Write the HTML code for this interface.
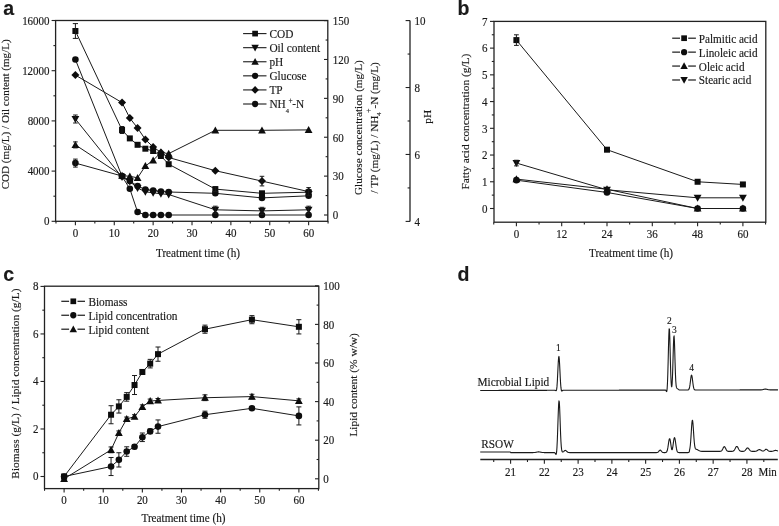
<!DOCTYPE html>
<html><head><meta charset="utf-8"><style>
html,body{margin:0;padding:0;background:#fff;}
svg{display:block;filter:grayscale(1);}
text{font-family:"Liberation Serif", serif; fill:#1a1a1a; stroke:#1a1a1a; stroke-width:0.15px;}
text.pl{font-family:"Liberation Sans", sans-serif; font-weight:bold;}
</style></head><body>
<svg width="779" height="526" viewBox="0 0 779 526">
<rect width="779" height="526" fill="#fff"/>
<rect x="55.6" y="20.5" width="272.2" height="200.8" fill="none" stroke="#222222" stroke-width="1.3"/>
<line x1="51.6" y1="221.3" x2="55.6" y2="221.3" stroke="#222222" stroke-width="1.1"/>
<text transform="translate(49.6 225.3) scale(1 1.1)" text-anchor="end" font-size="11">0</text>
<line x1="53.4" y1="196.2" x2="55.6" y2="196.2" stroke="#222222" stroke-width="1.1"/>
<line x1="51.6" y1="171.1" x2="55.6" y2="171.1" stroke="#222222" stroke-width="1.1"/>
<text transform="translate(49.6 175.1) scale(1 1.1)" text-anchor="end" font-size="11">4000</text>
<line x1="53.4" y1="146" x2="55.6" y2="146" stroke="#222222" stroke-width="1.1"/>
<line x1="51.6" y1="120.9" x2="55.6" y2="120.9" stroke="#222222" stroke-width="1.1"/>
<text transform="translate(49.6 124.9) scale(1 1.1)" text-anchor="end" font-size="11">8000</text>
<line x1="53.4" y1="95.8" x2="55.6" y2="95.8" stroke="#222222" stroke-width="1.1"/>
<line x1="51.6" y1="70.7" x2="55.6" y2="70.7" stroke="#222222" stroke-width="1.1"/>
<text transform="translate(49.6 74.7) scale(1 1.1)" text-anchor="end" font-size="11">12000</text>
<line x1="53.4" y1="45.6" x2="55.6" y2="45.6" stroke="#222222" stroke-width="1.1"/>
<line x1="51.6" y1="20.5" x2="55.6" y2="20.5" stroke="#222222" stroke-width="1.1"/>
<text transform="translate(49.6 24.5) scale(1 1.1)" text-anchor="end" font-size="11">16000</text>
<line x1="55.97" y1="221.3" x2="55.97" y2="223.5" stroke="#222222" stroke-width="1.1"/>
<line x1="75.4" y1="221.3" x2="75.4" y2="225.3" stroke="#222222" stroke-width="1.1"/>
<text transform="translate(75.4 237) scale(1 1.1)" text-anchor="middle" font-size="11">0</text>
<line x1="94.84" y1="221.3" x2="94.84" y2="223.5" stroke="#222222" stroke-width="1.1"/>
<line x1="114.27" y1="221.3" x2="114.27" y2="225.3" stroke="#222222" stroke-width="1.1"/>
<text transform="translate(114.27 237) scale(1 1.1)" text-anchor="middle" font-size="11">10</text>
<line x1="133.71" y1="221.3" x2="133.71" y2="223.5" stroke="#222222" stroke-width="1.1"/>
<line x1="153.14" y1="221.3" x2="153.14" y2="225.3" stroke="#222222" stroke-width="1.1"/>
<text transform="translate(153.14 237) scale(1 1.1)" text-anchor="middle" font-size="11">20</text>
<line x1="172.57" y1="221.3" x2="172.57" y2="223.5" stroke="#222222" stroke-width="1.1"/>
<line x1="192.01" y1="221.3" x2="192.01" y2="225.3" stroke="#222222" stroke-width="1.1"/>
<text transform="translate(192.01 237) scale(1 1.1)" text-anchor="middle" font-size="11">30</text>
<line x1="211.44" y1="221.3" x2="211.44" y2="223.5" stroke="#222222" stroke-width="1.1"/>
<line x1="230.88" y1="221.3" x2="230.88" y2="225.3" stroke="#222222" stroke-width="1.1"/>
<text transform="translate(230.88 237) scale(1 1.1)" text-anchor="middle" font-size="11">40</text>
<line x1="250.31" y1="221.3" x2="250.31" y2="223.5" stroke="#222222" stroke-width="1.1"/>
<line x1="269.75" y1="221.3" x2="269.75" y2="225.3" stroke="#222222" stroke-width="1.1"/>
<text transform="translate(269.75 237) scale(1 1.1)" text-anchor="middle" font-size="11">50</text>
<line x1="289.19" y1="221.3" x2="289.19" y2="223.5" stroke="#222222" stroke-width="1.1"/>
<line x1="308.62" y1="221.3" x2="308.62" y2="225.3" stroke="#222222" stroke-width="1.1"/>
<text transform="translate(308.62 237) scale(1 1.1)" text-anchor="middle" font-size="11">60</text>
<line x1="328.06" y1="221.3" x2="328.06" y2="223.5" stroke="#222222" stroke-width="1.1"/>
<text transform="translate(198 256.8) scale(1 1.1)" text-anchor="middle" font-size="11.2">Treatment time (h)</text>
<line x1="324" y1="215" x2="327.8" y2="215" stroke="#222222" stroke-width="1.1"/>
<text transform="translate(332.8 219.3) scale(1 1.1)" text-anchor="start" font-size="11">0</text>
<line x1="325.6" y1="195.56" x2="327.8" y2="195.56" stroke="#222222" stroke-width="1.1"/>
<line x1="324" y1="176.12" x2="327.8" y2="176.12" stroke="#222222" stroke-width="1.1"/>
<text transform="translate(332.8 180.42) scale(1 1.1)" text-anchor="start" font-size="11">30</text>
<line x1="325.6" y1="156.68" x2="327.8" y2="156.68" stroke="#222222" stroke-width="1.1"/>
<line x1="324" y1="137.24" x2="327.8" y2="137.24" stroke="#222222" stroke-width="1.1"/>
<text transform="translate(332.8 141.54) scale(1 1.1)" text-anchor="start" font-size="11">60</text>
<line x1="325.6" y1="117.8" x2="327.8" y2="117.8" stroke="#222222" stroke-width="1.1"/>
<line x1="324" y1="98.36" x2="327.8" y2="98.36" stroke="#222222" stroke-width="1.1"/>
<text transform="translate(332.8 102.66) scale(1 1.1)" text-anchor="start" font-size="11">90</text>
<line x1="325.6" y1="78.92" x2="327.8" y2="78.92" stroke="#222222" stroke-width="1.1"/>
<line x1="324" y1="59.48" x2="327.8" y2="59.48" stroke="#222222" stroke-width="1.1"/>
<text transform="translate(332.8 63.78) scale(1 1.1)" text-anchor="start" font-size="11">120</text>
<line x1="325.6" y1="40.04" x2="327.8" y2="40.04" stroke="#222222" stroke-width="1.1"/>
<line x1="324" y1="20.6" x2="327.8" y2="20.6" stroke="#222222" stroke-width="1.1"/>
<text transform="translate(332.8 24.9) scale(1 1.1)" text-anchor="start" font-size="11">150</text>
<line x1="410" y1="20.6" x2="410" y2="221.4" stroke="#222222" stroke-width="1.3"/>
<line x1="405.6" y1="221.4" x2="410" y2="221.4" stroke="#222222" stroke-width="1.1"/>
<text transform="translate(414.5 225.6) scale(1 1.1)" text-anchor="start" font-size="11">4</text>
<line x1="407.6" y1="187.93" x2="410" y2="187.93" stroke="#222222" stroke-width="1.1"/>
<line x1="405.6" y1="154.46" x2="410" y2="154.46" stroke="#222222" stroke-width="1.1"/>
<text transform="translate(414.5 158.66) scale(1 1.1)" text-anchor="start" font-size="11">6</text>
<line x1="407.6" y1="120.99" x2="410" y2="120.99" stroke="#222222" stroke-width="1.1"/>
<line x1="405.6" y1="87.52" x2="410" y2="87.52" stroke="#222222" stroke-width="1.1"/>
<text transform="translate(414.5 91.72) scale(1 1.1)" text-anchor="start" font-size="11">8</text>
<line x1="407.6" y1="54.05" x2="410" y2="54.05" stroke="#222222" stroke-width="1.1"/>
<line x1="405.6" y1="20.58" x2="410" y2="20.58" stroke="#222222" stroke-width="1.1"/>
<text transform="translate(414.5 24.78) scale(1 1.1)" text-anchor="start" font-size="11">10</text>
<text transform="translate(8.8 114.3) rotate(-90) scale(1 1.0)" text-anchor="middle" font-size="11.1">COD (mg/L) / Oil content (mg/L)</text>
<text transform="translate(361.9 127.6) rotate(-90) scale(1 1.0)" text-anchor="middle" font-size="11.2">Glucose concentration (mg/L)</text>
<text transform="translate(378.1 127.8) rotate(-90) scale(1 1.0)" text-anchor="middle" font-size="11.2">/ TP (mg/L) / NH<tspan font-size='6.5' dy='3'>4</tspan><tspan font-size='7.5' dx='-0.3' dy='-10.4'>+</tspan><tspan dy='7.4'>-N (mg/L)</tspan></text>
<text transform="translate(430.8 116.7) rotate(-90) scale(1 1.0)" text-anchor="middle" font-size="11.4">pH</text>
<polyline points="75.4,31 122.04,130 129.82,138.4 137.59,144.8 145.37,148.7 153.14,151 160.91,156 168.69,164.2 215.33,189.1 261.98,193.3 308.62,192.2" fill="none" stroke="#1a1a1a" stroke-width="1" stroke-linejoin="round"/>
<polyline points="75.4,75.1 122.04,102.6 129.82,118.1 137.59,128 145.37,139.5 153.14,147 160.91,152.4 168.69,157.5 215.33,170.7 261.98,181.1 308.62,191.6" fill="none" stroke="#1a1a1a" stroke-width="1" stroke-linejoin="round"/>
<polyline points="75.4,119 122.04,177.2 129.82,181.5 137.59,188 145.37,191.8 153.14,192.8 160.91,193.8 168.69,194.5 215.33,209.8 261.98,210.9 308.62,209.8" fill="none" stroke="#1a1a1a" stroke-width="1" stroke-linejoin="round"/>
<polyline points="75.4,163.1 122.04,176 129.82,181 137.59,186 145.37,189.5 153.14,190.5 160.91,191.5 168.69,192 215.33,193.3 261.98,197.9 308.62,195.8" fill="none" stroke="#1a1a1a" stroke-width="1" stroke-linejoin="round"/>
<polyline points="75.4,59.5 122.04,176.3 129.82,188.8 137.59,212 145.37,215 153.14,215 160.91,215 168.69,215 215.33,215 261.98,215 308.62,215" fill="none" stroke="#1a1a1a" stroke-width="1" stroke-linejoin="round"/>
<polyline points="75.4,144.9 122.04,175.6 129.82,176.3 137.59,177.8 145.37,166 153.14,160.3 160.91,152.5 168.69,153.6 215.33,130.3 261.98,130.3 308.62,129.9" fill="none" stroke="#1a1a1a" stroke-width="1" stroke-linejoin="round"/>
<rect x="72.4" y="28" width="6" height="6" fill="#0d0d0d"/>
<rect x="119.04" y="127" width="6" height="6" fill="#0d0d0d"/>
<rect x="126.82" y="135.4" width="6" height="6" fill="#0d0d0d"/>
<rect x="134.59" y="141.8" width="6" height="6" fill="#0d0d0d"/>
<rect x="142.37" y="145.7" width="6" height="6" fill="#0d0d0d"/>
<rect x="150.14" y="148" width="6" height="6" fill="#0d0d0d"/>
<rect x="157.91" y="153" width="6" height="6" fill="#0d0d0d"/>
<rect x="165.69" y="161.2" width="6" height="6" fill="#0d0d0d"/>
<rect x="212.33" y="186.1" width="6" height="6" fill="#0d0d0d"/>
<rect x="258.98" y="190.3" width="6" height="6" fill="#0d0d0d"/>
<rect x="305.62" y="189.2" width="6" height="6" fill="#0d0d0d"/>
<path d="M75.4 71.1 L79.4 75.1 L75.4 79.1 L71.4 75.1Z" fill="#0d0d0d"/>
<path d="M122.04 98.6 L126.04 102.6 L122.04 106.6 L118.04 102.6Z" fill="#0d0d0d"/>
<path d="M129.82 114.1 L133.82 118.1 L129.82 122.1 L125.82 118.1Z" fill="#0d0d0d"/>
<path d="M137.59 124 L141.59 128 L137.59 132 L133.59 128Z" fill="#0d0d0d"/>
<path d="M145.37 135.5 L149.37 139.5 L145.37 143.5 L141.37 139.5Z" fill="#0d0d0d"/>
<path d="M153.14 143 L157.14 147 L153.14 151 L149.14 147Z" fill="#0d0d0d"/>
<path d="M160.91 148.4 L164.91 152.4 L160.91 156.4 L156.91 152.4Z" fill="#0d0d0d"/>
<path d="M168.69 153.5 L172.69 157.5 L168.69 161.5 L164.69 157.5Z" fill="#0d0d0d"/>
<path d="M215.33 166.7 L219.33 170.7 L215.33 174.7 L211.33 170.7Z" fill="#0d0d0d"/>
<path d="M261.98 177.1 L265.98 181.1 L261.98 185.1 L257.98 181.1Z" fill="#0d0d0d"/>
<path d="M308.62 187.6 L312.62 191.6 L308.62 195.6 L304.62 191.6Z" fill="#0d0d0d"/>
<path d="M75.4 122.9 L79.3 115.88 L71.5 115.88Z" fill="#0d0d0d"/>
<path d="M122.04 181.1 L125.94 174.08 L118.14 174.08Z" fill="#0d0d0d"/>
<path d="M129.82 185.4 L133.72 178.38 L125.92 178.38Z" fill="#0d0d0d"/>
<path d="M137.59 191.9 L141.49 184.88 L133.69 184.88Z" fill="#0d0d0d"/>
<path d="M145.37 195.7 L149.27 188.68 L141.47 188.68Z" fill="#0d0d0d"/>
<path d="M153.14 196.7 L157.04 189.68 L149.24 189.68Z" fill="#0d0d0d"/>
<path d="M160.91 197.7 L164.81 190.68 L157.01 190.68Z" fill="#0d0d0d"/>
<path d="M168.69 198.4 L172.59 191.38 L164.79 191.38Z" fill="#0d0d0d"/>
<path d="M215.33 213.7 L219.23 206.68 L211.43 206.68Z" fill="#0d0d0d"/>
<path d="M261.98 214.8 L265.88 207.78 L258.08 207.78Z" fill="#0d0d0d"/>
<path d="M308.62 213.7 L312.52 206.68 L304.72 206.68Z" fill="#0d0d0d"/>
<circle cx="75.4" cy="163.1" r="3.3" fill="#0d0d0d"/>
<circle cx="122.04" cy="176" r="3.3" fill="#0d0d0d"/>
<circle cx="129.82" cy="181" r="3.3" fill="#0d0d0d"/>
<circle cx="137.59" cy="186" r="3.3" fill="#0d0d0d"/>
<circle cx="145.37" cy="189.5" r="3.3" fill="#0d0d0d"/>
<circle cx="153.14" cy="190.5" r="3.3" fill="#0d0d0d"/>
<circle cx="160.91" cy="191.5" r="3.3" fill="#0d0d0d"/>
<circle cx="168.69" cy="192" r="3.3" fill="#0d0d0d"/>
<circle cx="215.33" cy="193.3" r="3.3" fill="#0d0d0d"/>
<circle cx="261.98" cy="197.9" r="3.3" fill="#0d0d0d"/>
<circle cx="308.62" cy="195.8" r="3.3" fill="#0d0d0d"/>
<circle cx="75.4" cy="59.5" r="3.3" fill="#0d0d0d"/>
<circle cx="122.04" cy="176.3" r="3.3" fill="#0d0d0d"/>
<circle cx="129.82" cy="188.8" r="3.3" fill="#0d0d0d"/>
<circle cx="137.59" cy="212" r="3.3" fill="#0d0d0d"/>
<circle cx="145.37" cy="215" r="3.3" fill="#0d0d0d"/>
<circle cx="153.14" cy="215" r="3.3" fill="#0d0d0d"/>
<circle cx="160.91" cy="215" r="3.3" fill="#0d0d0d"/>
<circle cx="168.69" cy="215" r="3.3" fill="#0d0d0d"/>
<circle cx="215.33" cy="215" r="3.3" fill="#0d0d0d"/>
<circle cx="261.98" cy="215" r="3.3" fill="#0d0d0d"/>
<circle cx="308.62" cy="215" r="3.3" fill="#0d0d0d"/>
<path d="M75.4 141 L79.3 148.02 L71.5 148.02Z" fill="#0d0d0d"/>
<path d="M122.04 171.7 L125.94 178.72 L118.14 178.72Z" fill="#0d0d0d"/>
<path d="M129.82 172.4 L133.72 179.42 L125.92 179.42Z" fill="#0d0d0d"/>
<path d="M137.59 173.9 L141.49 180.92 L133.69 180.92Z" fill="#0d0d0d"/>
<path d="M145.37 162.1 L149.27 169.12 L141.47 169.12Z" fill="#0d0d0d"/>
<path d="M153.14 156.4 L157.04 163.42 L149.24 163.42Z" fill="#0d0d0d"/>
<path d="M160.91 148.6 L164.81 155.62 L157.01 155.62Z" fill="#0d0d0d"/>
<path d="M168.69 149.7 L172.59 156.72 L164.79 156.72Z" fill="#0d0d0d"/>
<path d="M215.33 126.4 L219.23 133.42 L211.43 133.42Z" fill="#0d0d0d"/>
<path d="M261.98 126.4 L265.88 133.42 L258.08 133.42Z" fill="#0d0d0d"/>
<path d="M308.62 126 L312.52 133.02 L304.72 133.02Z" fill="#0d0d0d"/>
<line x1="75.4" y1="23.6" x2="75.4" y2="38.4" stroke="#1a1a1a" stroke-width="1"/>
<line x1="72.8" y1="23.6" x2="78" y2="23.6" stroke="#1a1a1a" stroke-width="1"/>
<line x1="72.8" y1="38.4" x2="78" y2="38.4" stroke="#1a1a1a" stroke-width="1"/>
<line x1="75.4" y1="159.1" x2="75.4" y2="167.1" stroke="#1a1a1a" stroke-width="1"/>
<line x1="73.1" y1="159.1" x2="77.7" y2="159.1" stroke="#1a1a1a" stroke-width="1"/>
<line x1="73.1" y1="167.1" x2="77.7" y2="167.1" stroke="#1a1a1a" stroke-width="1"/>
<line x1="122.04" y1="126.5" x2="122.04" y2="133.5" stroke="#1a1a1a" stroke-width="1"/>
<line x1="119.74" y1="126.5" x2="124.34" y2="126.5" stroke="#1a1a1a" stroke-width="1"/>
<line x1="119.74" y1="133.5" x2="124.34" y2="133.5" stroke="#1a1a1a" stroke-width="1"/>
<line x1="261.98" y1="176.3" x2="261.98" y2="185.9" stroke="#1a1a1a" stroke-width="1"/>
<line x1="259.68" y1="176.3" x2="264.28" y2="176.3" stroke="#1a1a1a" stroke-width="1"/>
<line x1="259.68" y1="185.9" x2="264.28" y2="185.9" stroke="#1a1a1a" stroke-width="1"/>
<line x1="308.62" y1="187.6" x2="308.62" y2="195.6" stroke="#1a1a1a" stroke-width="1"/>
<line x1="306.32" y1="187.6" x2="310.92" y2="187.6" stroke="#1a1a1a" stroke-width="1"/>
<line x1="306.32" y1="195.6" x2="310.92" y2="195.6" stroke="#1a1a1a" stroke-width="1"/>
<line x1="75.4" y1="115" x2="75.4" y2="123" stroke="#1a1a1a" stroke-width="1"/>
<line x1="73.1" y1="115" x2="77.7" y2="115" stroke="#1a1a1a" stroke-width="1"/>
<line x1="73.1" y1="123" x2="77.7" y2="123" stroke="#1a1a1a" stroke-width="1"/>
<line x1="75.4" y1="141.9" x2="75.4" y2="147.9" stroke="#1a1a1a" stroke-width="1"/>
<line x1="73.1" y1="141.9" x2="77.7" y2="141.9" stroke="#1a1a1a" stroke-width="1"/>
<line x1="73.1" y1="147.9" x2="77.7" y2="147.9" stroke="#1a1a1a" stroke-width="1"/>
<line x1="215.33" y1="206.2" x2="215.33" y2="213.4" stroke="#1a1a1a" stroke-width="1"/>
<line x1="213.03" y1="206.2" x2="217.63" y2="206.2" stroke="#1a1a1a" stroke-width="1"/>
<line x1="213.03" y1="213.4" x2="217.63" y2="213.4" stroke="#1a1a1a" stroke-width="1"/>
<line x1="261.98" y1="207.3" x2="261.98" y2="214.5" stroke="#1a1a1a" stroke-width="1"/>
<line x1="259.68" y1="207.3" x2="264.28" y2="207.3" stroke="#1a1a1a" stroke-width="1"/>
<line x1="259.68" y1="214.5" x2="264.28" y2="214.5" stroke="#1a1a1a" stroke-width="1"/>
<line x1="308.62" y1="206.2" x2="308.62" y2="213.4" stroke="#1a1a1a" stroke-width="1"/>
<line x1="306.32" y1="206.2" x2="310.92" y2="206.2" stroke="#1a1a1a" stroke-width="1"/>
<line x1="306.32" y1="213.4" x2="310.92" y2="213.4" stroke="#1a1a1a" stroke-width="1"/>
<line x1="215.33" y1="186.6" x2="215.33" y2="191.6" stroke="#1a1a1a" stroke-width="1"/>
<line x1="213.03" y1="186.6" x2="217.63" y2="186.6" stroke="#1a1a1a" stroke-width="1"/>
<line x1="213.03" y1="191.6" x2="217.63" y2="191.6" stroke="#1a1a1a" stroke-width="1"/>
<line x1="243.1" y1="33.6" x2="266.5" y2="33.6" stroke="#1a1a1a" stroke-width="1.1"/>
<rect x="252.25" y="30.75" width="5.7" height="5.7" fill="#0d0d0d"/>
<text transform="translate(269.4 37.8) scale(1 1.1)" text-anchor="start" font-size="11.35">COD</text>
<line x1="243.1" y1="47.68" x2="266.5" y2="47.68" stroke="#1a1a1a" stroke-width="1.1"/>
<path d="M255.1 51.38 L258.81 44.72 L251.39 44.72Z" fill="#0d0d0d"/>
<text transform="translate(269.4 51.88) scale(1 1.1)" text-anchor="start" font-size="11.35">Oil content</text>
<line x1="243.1" y1="61.76" x2="266.5" y2="61.76" stroke="#1a1a1a" stroke-width="1.1"/>
<path d="M255.1 58.06 L258.81 64.72 L251.39 64.72Z" fill="#0d0d0d"/>
<text transform="translate(269.4 65.96) scale(1 1.1)" text-anchor="start" font-size="11.35">pH</text>
<line x1="243.1" y1="75.84" x2="266.5" y2="75.84" stroke="#1a1a1a" stroke-width="1.1"/>
<circle cx="255.1" cy="75.84" r="3.13" fill="#0d0d0d"/>
<text transform="translate(269.4 80.04) scale(1 1.1)" text-anchor="start" font-size="11.35">Glucose</text>
<line x1="243.1" y1="89.92" x2="266.5" y2="89.92" stroke="#1a1a1a" stroke-width="1.1"/>
<path d="M255.1 86.12 L258.9 89.92 L255.1 93.72 L251.3 89.92Z" fill="#0d0d0d"/>
<text transform="translate(269.4 94.12) scale(1 1.1)" text-anchor="start" font-size="11.35">TP</text>
<line x1="243.1" y1="104" x2="266.5" y2="104" stroke="#1a1a1a" stroke-width="1.1"/>
<circle cx="255.1" cy="104" r="3.13" fill="#0d0d0d"/>
<text transform="translate(269.4 108.2) scale(1 1.1)" text-anchor="start" font-size="11.35">NH<tspan font-size='6.5' dy='4.3'>4</tspan><tspan font-size='7.5' dx='-0.6' dy='-9.2'>+</tspan><tspan dx='-0.4' dy='4.9'>-N</tspan></text>
<rect x="494.0" y="21.4" width="271.8" height="200.8" fill="none" stroke="#222222" stroke-width="1.3"/>
<line x1="490" y1="208.5" x2="494" y2="208.5" stroke="#222222" stroke-width="1.1"/>
<text transform="translate(487.4 212.8) scale(1 1.1)" text-anchor="end" font-size="11">0</text>
<line x1="491.8" y1="195.13" x2="494" y2="195.13" stroke="#222222" stroke-width="1.1"/>
<line x1="490" y1="181.77" x2="494" y2="181.77" stroke="#222222" stroke-width="1.1"/>
<text transform="translate(487.4 186.07) scale(1 1.1)" text-anchor="end" font-size="11">1</text>
<line x1="491.8" y1="168.41" x2="494" y2="168.41" stroke="#222222" stroke-width="1.1"/>
<line x1="490" y1="155.04" x2="494" y2="155.04" stroke="#222222" stroke-width="1.1"/>
<text transform="translate(487.4 159.34) scale(1 1.1)" text-anchor="end" font-size="11">2</text>
<line x1="491.8" y1="141.68" x2="494" y2="141.68" stroke="#222222" stroke-width="1.1"/>
<line x1="490" y1="128.31" x2="494" y2="128.31" stroke="#222222" stroke-width="1.1"/>
<text transform="translate(487.4 132.61) scale(1 1.1)" text-anchor="end" font-size="11">3</text>
<line x1="491.8" y1="114.94" x2="494" y2="114.94" stroke="#222222" stroke-width="1.1"/>
<line x1="490" y1="101.58" x2="494" y2="101.58" stroke="#222222" stroke-width="1.1"/>
<text transform="translate(487.4 105.88) scale(1 1.1)" text-anchor="end" font-size="11">4</text>
<line x1="491.8" y1="88.22" x2="494" y2="88.22" stroke="#222222" stroke-width="1.1"/>
<line x1="490" y1="74.85" x2="494" y2="74.85" stroke="#222222" stroke-width="1.1"/>
<text transform="translate(487.4 79.15) scale(1 1.1)" text-anchor="end" font-size="11">5</text>
<line x1="491.8" y1="61.48" x2="494" y2="61.48" stroke="#222222" stroke-width="1.1"/>
<line x1="490" y1="48.12" x2="494" y2="48.12" stroke="#222222" stroke-width="1.1"/>
<text transform="translate(487.4 52.42) scale(1 1.1)" text-anchor="end" font-size="11">6</text>
<line x1="491.8" y1="34.75" x2="494" y2="34.75" stroke="#222222" stroke-width="1.1"/>
<line x1="490" y1="21.39" x2="494" y2="21.39" stroke="#222222" stroke-width="1.1"/>
<text transform="translate(487.4 25.69) scale(1 1.1)" text-anchor="end" font-size="11">7</text>
<line x1="493.75" y1="222.2" x2="493.75" y2="224.4" stroke="#222222" stroke-width="1.1"/>
<line x1="516.4" y1="222.2" x2="516.4" y2="226.2" stroke="#222222" stroke-width="1.1"/>
<text transform="translate(516.4 237.5) scale(1 1.1)" text-anchor="middle" font-size="11">0</text>
<line x1="539.05" y1="222.2" x2="539.05" y2="224.4" stroke="#222222" stroke-width="1.1"/>
<line x1="561.7" y1="222.2" x2="561.7" y2="226.2" stroke="#222222" stroke-width="1.1"/>
<text transform="translate(561.7 237.5) scale(1 1.1)" text-anchor="middle" font-size="11">12</text>
<line x1="584.35" y1="222.2" x2="584.35" y2="224.4" stroke="#222222" stroke-width="1.1"/>
<line x1="607" y1="222.2" x2="607" y2="226.2" stroke="#222222" stroke-width="1.1"/>
<text transform="translate(607 237.5) scale(1 1.1)" text-anchor="middle" font-size="11">24</text>
<line x1="629.65" y1="222.2" x2="629.65" y2="224.4" stroke="#222222" stroke-width="1.1"/>
<line x1="652.3" y1="222.2" x2="652.3" y2="226.2" stroke="#222222" stroke-width="1.1"/>
<text transform="translate(652.3 237.5) scale(1 1.1)" text-anchor="middle" font-size="11">36</text>
<line x1="674.95" y1="222.2" x2="674.95" y2="224.4" stroke="#222222" stroke-width="1.1"/>
<line x1="697.6" y1="222.2" x2="697.6" y2="226.2" stroke="#222222" stroke-width="1.1"/>
<text transform="translate(697.6 237.5) scale(1 1.1)" text-anchor="middle" font-size="11">48</text>
<line x1="720.25" y1="222.2" x2="720.25" y2="224.4" stroke="#222222" stroke-width="1.1"/>
<line x1="742.9" y1="222.2" x2="742.9" y2="226.2" stroke="#222222" stroke-width="1.1"/>
<text transform="translate(742.9 237.5) scale(1 1.1)" text-anchor="middle" font-size="11">60</text>
<line x1="765.55" y1="222.2" x2="765.55" y2="224.4" stroke="#222222" stroke-width="1.1"/>
<text transform="translate(631 257.3) scale(1 1.1)" text-anchor="middle" font-size="11.2">Treatment time (h)</text>
<text transform="translate(469 121.6) rotate(-90) scale(1 1.0)" text-anchor="middle" font-size="11.35">Fatty acid concentration (g/L)</text>
<polyline points="516.4,40.1 607,149.69 697.6,181.77 742.9,184.44" fill="none" stroke="#1a1a1a" stroke-width="1" stroke-linejoin="round"/>
<polyline points="516.4,163.06 607,189.79 697.6,197.81 742.9,197.81" fill="none" stroke="#1a1a1a" stroke-width="1" stroke-linejoin="round"/>
<polyline points="516.4,179.1 607,189.25 697.6,208.5 742.9,208.5" fill="none" stroke="#1a1a1a" stroke-width="1" stroke-linejoin="round"/>
<polyline points="516.4,180.17 607,192.46 697.6,208.5 742.9,208.5" fill="none" stroke="#1a1a1a" stroke-width="1" stroke-linejoin="round"/>
<rect x="513.4" y="37.1" width="6" height="6" fill="#0d0d0d"/>
<rect x="604" y="146.69" width="6" height="6" fill="#0d0d0d"/>
<rect x="694.6" y="178.77" width="6" height="6" fill="#0d0d0d"/>
<rect x="739.9" y="181.44" width="6" height="6" fill="#0d0d0d"/>
<path d="M516.4 166.96 L520.3 159.94 L512.5 159.94Z" fill="#0d0d0d"/>
<path d="M607 193.69 L610.9 186.67 L603.1 186.67Z" fill="#0d0d0d"/>
<path d="M697.6 201.71 L701.5 194.69 L693.7 194.69Z" fill="#0d0d0d"/>
<path d="M742.9 201.71 L746.8 194.69 L739 194.69Z" fill="#0d0d0d"/>
<path d="M516.4 175.2 L520.3 182.22 L512.5 182.22Z" fill="#0d0d0d"/>
<path d="M607 185.35 L610.9 192.37 L603.1 192.37Z" fill="#0d0d0d"/>
<path d="M697.6 204.6 L701.5 211.62 L693.7 211.62Z" fill="#0d0d0d"/>
<path d="M742.9 204.6 L746.8 211.62 L739 211.62Z" fill="#0d0d0d"/>
<circle cx="516.4" cy="180.17" r="3.3" fill="#0d0d0d"/>
<circle cx="607" cy="192.46" r="3.3" fill="#0d0d0d"/>
<circle cx="697.6" cy="208.5" r="3.3" fill="#0d0d0d"/>
<circle cx="742.9" cy="208.5" r="3.3" fill="#0d0d0d"/>
<line x1="516.4" y1="34.8" x2="516.4" y2="45.4" stroke="#1a1a1a" stroke-width="1"/>
<line x1="514" y1="34.8" x2="518.8" y2="34.8" stroke="#1a1a1a" stroke-width="1"/>
<line x1="514" y1="45.4" x2="518.8" y2="45.4" stroke="#1a1a1a" stroke-width="1"/>
<line x1="516.4" y1="160.26" x2="516.4" y2="165.86" stroke="#1a1a1a" stroke-width="1"/>
<line x1="514.1" y1="160.26" x2="518.7" y2="160.26" stroke="#1a1a1a" stroke-width="1"/>
<line x1="514.1" y1="165.86" x2="518.7" y2="165.86" stroke="#1a1a1a" stroke-width="1"/>
<line x1="672.2" y1="38.2" x2="680" y2="38.2" stroke="#1a1a1a" stroke-width="1.2"/>
<line x1="688.2" y1="38.2" x2="695.9" y2="38.2" stroke="#1a1a1a" stroke-width="1.2"/>
<rect x="681.25" y="35.35" width="5.7" height="5.7" fill="#0d0d0d"/>
<text transform="translate(698.8 42.7) scale(1 1.1)" text-anchor="start" font-size="11.2">Palmitic acid</text>
<line x1="672.2" y1="52.13" x2="680" y2="52.13" stroke="#1a1a1a" stroke-width="1.2"/>
<line x1="688.2" y1="52.13" x2="695.9" y2="52.13" stroke="#1a1a1a" stroke-width="1.2"/>
<circle cx="684.1" cy="52.13" r="3.13" fill="#0d0d0d"/>
<text transform="translate(698.8 56.63) scale(1 1.1)" text-anchor="start" font-size="11.2">Linoleic acid</text>
<line x1="672.2" y1="66.06" x2="680" y2="66.06" stroke="#1a1a1a" stroke-width="1.2"/>
<line x1="688.2" y1="66.06" x2="695.9" y2="66.06" stroke="#1a1a1a" stroke-width="1.2"/>
<path d="M684.1 62.36 L687.81 69.02 L680.39 69.02Z" fill="#0d0d0d"/>
<text transform="translate(698.8 70.56) scale(1 1.1)" text-anchor="start" font-size="11.2">Oleic acid</text>
<line x1="672.2" y1="79.99" x2="680" y2="79.99" stroke="#1a1a1a" stroke-width="1.2"/>
<line x1="688.2" y1="79.99" x2="695.9" y2="79.99" stroke="#1a1a1a" stroke-width="1.2"/>
<path d="M684.1 83.7 L687.81 77.03 L680.39 77.03Z" fill="#0d0d0d"/>
<text transform="translate(698.8 84.49) scale(1 1.1)" text-anchor="start" font-size="11.2">Stearic acid</text>
<rect x="44.5" y="286.2" width="274.3" height="202.4" fill="none" stroke="#222222" stroke-width="1.3"/>
<line x1="40.5" y1="476.5" x2="44.5" y2="476.5" stroke="#222222" stroke-width="1.1"/>
<text transform="translate(38.5 480.2) scale(1 1.1)" text-anchor="end" font-size="11">0</text>
<line x1="42.3" y1="452.74" x2="44.5" y2="452.74" stroke="#222222" stroke-width="1.1"/>
<line x1="40.5" y1="428.98" x2="44.5" y2="428.98" stroke="#222222" stroke-width="1.1"/>
<text transform="translate(38.5 432.68) scale(1 1.1)" text-anchor="end" font-size="11">2</text>
<line x1="42.3" y1="405.22" x2="44.5" y2="405.22" stroke="#222222" stroke-width="1.1"/>
<line x1="40.5" y1="381.46" x2="44.5" y2="381.46" stroke="#222222" stroke-width="1.1"/>
<text transform="translate(38.5 385.16) scale(1 1.1)" text-anchor="end" font-size="11">4</text>
<line x1="42.3" y1="357.7" x2="44.5" y2="357.7" stroke="#222222" stroke-width="1.1"/>
<line x1="40.5" y1="333.94" x2="44.5" y2="333.94" stroke="#222222" stroke-width="1.1"/>
<text transform="translate(38.5 337.64) scale(1 1.1)" text-anchor="end" font-size="11">6</text>
<line x1="42.3" y1="310.18" x2="44.5" y2="310.18" stroke="#222222" stroke-width="1.1"/>
<line x1="40.5" y1="286.42" x2="44.5" y2="286.42" stroke="#222222" stroke-width="1.1"/>
<text transform="translate(38.5 290.12) scale(1 1.1)" text-anchor="end" font-size="11">8</text>
<line x1="44.53" y1="488.6" x2="44.53" y2="490.8" stroke="#222222" stroke-width="1.1"/>
<line x1="64.1" y1="488.6" x2="64.1" y2="492.6" stroke="#222222" stroke-width="1.1"/>
<text transform="translate(64.1 504.2) scale(1 1.1)" text-anchor="middle" font-size="11">0</text>
<line x1="83.66" y1="488.6" x2="83.66" y2="490.8" stroke="#222222" stroke-width="1.1"/>
<line x1="103.23" y1="488.6" x2="103.23" y2="492.6" stroke="#222222" stroke-width="1.1"/>
<text transform="translate(103.23 504.2) scale(1 1.1)" text-anchor="middle" font-size="11">10</text>
<line x1="122.79" y1="488.6" x2="122.79" y2="490.8" stroke="#222222" stroke-width="1.1"/>
<line x1="142.36" y1="488.6" x2="142.36" y2="492.6" stroke="#222222" stroke-width="1.1"/>
<text transform="translate(142.36 504.2) scale(1 1.1)" text-anchor="middle" font-size="11">20</text>
<line x1="161.92" y1="488.6" x2="161.92" y2="490.8" stroke="#222222" stroke-width="1.1"/>
<line x1="181.49" y1="488.6" x2="181.49" y2="492.6" stroke="#222222" stroke-width="1.1"/>
<text transform="translate(181.49 504.2) scale(1 1.1)" text-anchor="middle" font-size="11">30</text>
<line x1="201.05" y1="488.6" x2="201.05" y2="490.8" stroke="#222222" stroke-width="1.1"/>
<line x1="220.62" y1="488.6" x2="220.62" y2="492.6" stroke="#222222" stroke-width="1.1"/>
<text transform="translate(220.62 504.2) scale(1 1.1)" text-anchor="middle" font-size="11">40</text>
<line x1="240.18" y1="488.6" x2="240.18" y2="490.8" stroke="#222222" stroke-width="1.1"/>
<line x1="259.75" y1="488.6" x2="259.75" y2="492.6" stroke="#222222" stroke-width="1.1"/>
<text transform="translate(259.75 504.2) scale(1 1.1)" text-anchor="middle" font-size="11">50</text>
<line x1="279.31" y1="488.6" x2="279.31" y2="490.8" stroke="#222222" stroke-width="1.1"/>
<line x1="298.88" y1="488.6" x2="298.88" y2="492.6" stroke="#222222" stroke-width="1.1"/>
<text transform="translate(298.88 504.2) scale(1 1.1)" text-anchor="middle" font-size="11">60</text>
<line x1="318.44" y1="488.6" x2="318.44" y2="490.8" stroke="#222222" stroke-width="1.1"/>
<line x1="315" y1="478.8" x2="318.8" y2="478.8" stroke="#222222" stroke-width="1.1"/>
<text transform="translate(323.3 482.9) scale(1 1.1)" text-anchor="start" font-size="11">0</text>
<line x1="316.6" y1="459.5" x2="318.8" y2="459.5" stroke="#222222" stroke-width="1.1"/>
<line x1="315" y1="440.2" x2="318.8" y2="440.2" stroke="#222222" stroke-width="1.1"/>
<text transform="translate(323.3 444.3) scale(1 1.1)" text-anchor="start" font-size="11">20</text>
<line x1="316.6" y1="420.9" x2="318.8" y2="420.9" stroke="#222222" stroke-width="1.1"/>
<line x1="315" y1="401.6" x2="318.8" y2="401.6" stroke="#222222" stroke-width="1.1"/>
<text transform="translate(323.3 405.7) scale(1 1.1)" text-anchor="start" font-size="11">40</text>
<line x1="316.6" y1="382.3" x2="318.8" y2="382.3" stroke="#222222" stroke-width="1.1"/>
<line x1="315" y1="363" x2="318.8" y2="363" stroke="#222222" stroke-width="1.1"/>
<text transform="translate(323.3 367.1) scale(1 1.1)" text-anchor="start" font-size="11">60</text>
<line x1="316.6" y1="343.7" x2="318.8" y2="343.7" stroke="#222222" stroke-width="1.1"/>
<line x1="315" y1="324.4" x2="318.8" y2="324.4" stroke="#222222" stroke-width="1.1"/>
<text transform="translate(323.3 328.5) scale(1 1.1)" text-anchor="start" font-size="11">80</text>
<line x1="316.6" y1="305.1" x2="318.8" y2="305.1" stroke="#222222" stroke-width="1.1"/>
<line x1="315" y1="285.8" x2="318.8" y2="285.8" stroke="#222222" stroke-width="1.1"/>
<text transform="translate(323.3 289.9) scale(1 1.1)" text-anchor="start" font-size="11">100</text>
<text transform="translate(183.5 522.4) scale(1 1.1)" text-anchor="middle" font-size="11.2">Treatment time (h)</text>
<text transform="translate(18.8 383.6) rotate(-90) scale(1 1.0)" text-anchor="middle" font-size="11.4">Biomass (g/L) / Lipid concentration (g/L)</text>
<text transform="translate(357 384.9) rotate(-90) scale(1 1.0)" text-anchor="middle" font-size="11.4">Lipid content (% w/w)</text>
<polyline points="64.1,476.5 111.06,414.72 118.88,406.41 126.71,396.9 134.53,385.02 142.36,371.96 150.19,363.64 158.01,354.14 204.97,329.19 251.92,319.68 298.88,326.81" fill="none" stroke="#1a1a1a" stroke-width="1" stroke-linejoin="round"/>
<polyline points="64.1,476.5 111.06,466.52 118.88,459.87 126.71,451.55 134.53,446.8 142.36,437.3 150.19,431.36 158.01,426.6 204.97,414.72 251.92,408.31 298.88,415.91" fill="none" stroke="#1a1a1a" stroke-width="1" stroke-linejoin="round"/>
<polyline points="64.1,478.8 111.06,449.85 118.88,432.87 126.71,418.97 134.53,416.65 142.36,406.81 150.19,401.02 158.01,400.44 204.97,397.74 251.92,396.58 298.88,400.83" fill="none" stroke="#1a1a1a" stroke-width="1" stroke-linejoin="round"/>
<line x1="64.1" y1="475.31" x2="64.1" y2="477.69" stroke="#1a1a1a" stroke-width="1"/>
<line x1="61.6" y1="475.31" x2="66.6" y2="475.31" stroke="#1a1a1a" stroke-width="1"/>
<line x1="61.6" y1="477.69" x2="66.6" y2="477.69" stroke="#1a1a1a" stroke-width="1"/>
<line x1="111.06" y1="405.7" x2="111.06" y2="423.75" stroke="#1a1a1a" stroke-width="1"/>
<line x1="108.56" y1="405.7" x2="113.56" y2="405.7" stroke="#1a1a1a" stroke-width="1"/>
<line x1="108.56" y1="423.75" x2="113.56" y2="423.75" stroke="#1a1a1a" stroke-width="1"/>
<line x1="118.88" y1="399.76" x2="118.88" y2="413.06" stroke="#1a1a1a" stroke-width="1"/>
<line x1="116.38" y1="399.76" x2="121.38" y2="399.76" stroke="#1a1a1a" stroke-width="1"/>
<line x1="116.38" y1="413.06" x2="121.38" y2="413.06" stroke="#1a1a1a" stroke-width="1"/>
<line x1="126.71" y1="392.63" x2="126.71" y2="401.18" stroke="#1a1a1a" stroke-width="1"/>
<line x1="124.21" y1="392.63" x2="129.21" y2="392.63" stroke="#1a1a1a" stroke-width="1"/>
<line x1="124.21" y1="401.18" x2="129.21" y2="401.18" stroke="#1a1a1a" stroke-width="1"/>
<line x1="134.53" y1="375.52" x2="134.53" y2="394.53" stroke="#1a1a1a" stroke-width="1"/>
<line x1="132.03" y1="375.52" x2="137.03" y2="375.52" stroke="#1a1a1a" stroke-width="1"/>
<line x1="132.03" y1="394.53" x2="137.03" y2="394.53" stroke="#1a1a1a" stroke-width="1"/>
<line x1="142.36" y1="369.58" x2="142.36" y2="374.33" stroke="#1a1a1a" stroke-width="1"/>
<line x1="139.86" y1="369.58" x2="144.86" y2="369.58" stroke="#1a1a1a" stroke-width="1"/>
<line x1="139.86" y1="374.33" x2="144.86" y2="374.33" stroke="#1a1a1a" stroke-width="1"/>
<line x1="150.19" y1="359.36" x2="150.19" y2="367.92" stroke="#1a1a1a" stroke-width="1"/>
<line x1="147.69" y1="359.36" x2="152.69" y2="359.36" stroke="#1a1a1a" stroke-width="1"/>
<line x1="147.69" y1="367.92" x2="152.69" y2="367.92" stroke="#1a1a1a" stroke-width="1"/>
<line x1="158.01" y1="347.01" x2="158.01" y2="361.26" stroke="#1a1a1a" stroke-width="1"/>
<line x1="155.51" y1="347.01" x2="160.51" y2="347.01" stroke="#1a1a1a" stroke-width="1"/>
<line x1="155.51" y1="361.26" x2="160.51" y2="361.26" stroke="#1a1a1a" stroke-width="1"/>
<line x1="204.97" y1="325.15" x2="204.97" y2="333.23" stroke="#1a1a1a" stroke-width="1"/>
<line x1="202.47" y1="325.15" x2="207.47" y2="325.15" stroke="#1a1a1a" stroke-width="1"/>
<line x1="202.47" y1="333.23" x2="207.47" y2="333.23" stroke="#1a1a1a" stroke-width="1"/>
<line x1="251.92" y1="315.64" x2="251.92" y2="323.72" stroke="#1a1a1a" stroke-width="1"/>
<line x1="249.42" y1="315.64" x2="254.42" y2="315.64" stroke="#1a1a1a" stroke-width="1"/>
<line x1="249.42" y1="323.72" x2="254.42" y2="323.72" stroke="#1a1a1a" stroke-width="1"/>
<line x1="298.88" y1="319.68" x2="298.88" y2="333.94" stroke="#1a1a1a" stroke-width="1"/>
<line x1="296.38" y1="319.68" x2="301.38" y2="319.68" stroke="#1a1a1a" stroke-width="1"/>
<line x1="296.38" y1="333.94" x2="301.38" y2="333.94" stroke="#1a1a1a" stroke-width="1"/>
<line x1="64.1" y1="475.31" x2="64.1" y2="477.69" stroke="#1a1a1a" stroke-width="1"/>
<line x1="61.6" y1="475.31" x2="66.6" y2="475.31" stroke="#1a1a1a" stroke-width="1"/>
<line x1="61.6" y1="477.69" x2="66.6" y2="477.69" stroke="#1a1a1a" stroke-width="1"/>
<line x1="111.06" y1="457.49" x2="111.06" y2="475.55" stroke="#1a1a1a" stroke-width="1"/>
<line x1="108.56" y1="457.49" x2="113.56" y2="457.49" stroke="#1a1a1a" stroke-width="1"/>
<line x1="108.56" y1="475.55" x2="113.56" y2="475.55" stroke="#1a1a1a" stroke-width="1"/>
<line x1="118.88" y1="452.74" x2="118.88" y2="467" stroke="#1a1a1a" stroke-width="1"/>
<line x1="116.38" y1="452.74" x2="121.38" y2="452.74" stroke="#1a1a1a" stroke-width="1"/>
<line x1="116.38" y1="467" x2="121.38" y2="467" stroke="#1a1a1a" stroke-width="1"/>
<line x1="126.71" y1="446.8" x2="126.71" y2="456.3" stroke="#1a1a1a" stroke-width="1"/>
<line x1="124.21" y1="446.8" x2="129.21" y2="446.8" stroke="#1a1a1a" stroke-width="1"/>
<line x1="124.21" y1="456.3" x2="129.21" y2="456.3" stroke="#1a1a1a" stroke-width="1"/>
<line x1="134.53" y1="444.9" x2="134.53" y2="448.7" stroke="#1a1a1a" stroke-width="1"/>
<line x1="132.03" y1="444.9" x2="137.03" y2="444.9" stroke="#1a1a1a" stroke-width="1"/>
<line x1="132.03" y1="448.7" x2="137.03" y2="448.7" stroke="#1a1a1a" stroke-width="1"/>
<line x1="142.36" y1="433.02" x2="142.36" y2="441.57" stroke="#1a1a1a" stroke-width="1"/>
<line x1="139.86" y1="433.02" x2="144.86" y2="433.02" stroke="#1a1a1a" stroke-width="1"/>
<line x1="139.86" y1="441.57" x2="144.86" y2="441.57" stroke="#1a1a1a" stroke-width="1"/>
<line x1="150.19" y1="428.98" x2="150.19" y2="433.73" stroke="#1a1a1a" stroke-width="1"/>
<line x1="147.69" y1="428.98" x2="152.69" y2="428.98" stroke="#1a1a1a" stroke-width="1"/>
<line x1="147.69" y1="433.73" x2="152.69" y2="433.73" stroke="#1a1a1a" stroke-width="1"/>
<line x1="158.01" y1="419.95" x2="158.01" y2="433.26" stroke="#1a1a1a" stroke-width="1"/>
<line x1="155.51" y1="419.95" x2="160.51" y2="419.95" stroke="#1a1a1a" stroke-width="1"/>
<line x1="155.51" y1="433.26" x2="160.51" y2="433.26" stroke="#1a1a1a" stroke-width="1"/>
<line x1="204.97" y1="411.16" x2="204.97" y2="418.29" stroke="#1a1a1a" stroke-width="1"/>
<line x1="202.47" y1="411.16" x2="207.47" y2="411.16" stroke="#1a1a1a" stroke-width="1"/>
<line x1="202.47" y1="418.29" x2="207.47" y2="418.29" stroke="#1a1a1a" stroke-width="1"/>
<line x1="251.92" y1="407.12" x2="251.92" y2="409.5" stroke="#1a1a1a" stroke-width="1"/>
<line x1="249.42" y1="407.12" x2="254.42" y2="407.12" stroke="#1a1a1a" stroke-width="1"/>
<line x1="249.42" y1="409.5" x2="254.42" y2="409.5" stroke="#1a1a1a" stroke-width="1"/>
<line x1="298.88" y1="406.88" x2="298.88" y2="424.94" stroke="#1a1a1a" stroke-width="1"/>
<line x1="296.38" y1="406.88" x2="301.38" y2="406.88" stroke="#1a1a1a" stroke-width="1"/>
<line x1="296.38" y1="424.94" x2="301.38" y2="424.94" stroke="#1a1a1a" stroke-width="1"/>
<line x1="64.1" y1="477.84" x2="64.1" y2="479.76" stroke="#1a1a1a" stroke-width="1"/>
<line x1="61.6" y1="477.84" x2="66.6" y2="477.84" stroke="#1a1a1a" stroke-width="1"/>
<line x1="61.6" y1="479.76" x2="66.6" y2="479.76" stroke="#1a1a1a" stroke-width="1"/>
<line x1="111.06" y1="446.96" x2="111.06" y2="452.75" stroke="#1a1a1a" stroke-width="1"/>
<line x1="108.56" y1="446.96" x2="113.56" y2="446.96" stroke="#1a1a1a" stroke-width="1"/>
<line x1="108.56" y1="452.75" x2="113.56" y2="452.75" stroke="#1a1a1a" stroke-width="1"/>
<line x1="118.88" y1="430.94" x2="118.88" y2="434.8" stroke="#1a1a1a" stroke-width="1"/>
<line x1="116.38" y1="430.94" x2="121.38" y2="430.94" stroke="#1a1a1a" stroke-width="1"/>
<line x1="116.38" y1="434.8" x2="121.38" y2="434.8" stroke="#1a1a1a" stroke-width="1"/>
<line x1="126.71" y1="417.04" x2="126.71" y2="420.9" stroke="#1a1a1a" stroke-width="1"/>
<line x1="124.21" y1="417.04" x2="129.21" y2="417.04" stroke="#1a1a1a" stroke-width="1"/>
<line x1="124.21" y1="420.9" x2="129.21" y2="420.9" stroke="#1a1a1a" stroke-width="1"/>
<line x1="134.53" y1="414.72" x2="134.53" y2="418.58" stroke="#1a1a1a" stroke-width="1"/>
<line x1="132.03" y1="414.72" x2="137.03" y2="414.72" stroke="#1a1a1a" stroke-width="1"/>
<line x1="132.03" y1="418.58" x2="137.03" y2="418.58" stroke="#1a1a1a" stroke-width="1"/>
<line x1="142.36" y1="404.88" x2="142.36" y2="408.74" stroke="#1a1a1a" stroke-width="1"/>
<line x1="139.86" y1="404.88" x2="144.86" y2="404.88" stroke="#1a1a1a" stroke-width="1"/>
<line x1="139.86" y1="408.74" x2="144.86" y2="408.74" stroke="#1a1a1a" stroke-width="1"/>
<line x1="150.19" y1="399.09" x2="150.19" y2="402.95" stroke="#1a1a1a" stroke-width="1"/>
<line x1="147.69" y1="399.09" x2="152.69" y2="399.09" stroke="#1a1a1a" stroke-width="1"/>
<line x1="147.69" y1="402.95" x2="152.69" y2="402.95" stroke="#1a1a1a" stroke-width="1"/>
<line x1="158.01" y1="398.51" x2="158.01" y2="402.37" stroke="#1a1a1a" stroke-width="1"/>
<line x1="155.51" y1="398.51" x2="160.51" y2="398.51" stroke="#1a1a1a" stroke-width="1"/>
<line x1="155.51" y1="402.37" x2="160.51" y2="402.37" stroke="#1a1a1a" stroke-width="1"/>
<line x1="204.97" y1="394.85" x2="204.97" y2="400.63" stroke="#1a1a1a" stroke-width="1"/>
<line x1="202.47" y1="394.85" x2="207.47" y2="394.85" stroke="#1a1a1a" stroke-width="1"/>
<line x1="202.47" y1="400.63" x2="207.47" y2="400.63" stroke="#1a1a1a" stroke-width="1"/>
<line x1="251.92" y1="394.27" x2="251.92" y2="398.9" stroke="#1a1a1a" stroke-width="1"/>
<line x1="249.42" y1="394.27" x2="254.42" y2="394.27" stroke="#1a1a1a" stroke-width="1"/>
<line x1="249.42" y1="398.9" x2="254.42" y2="398.9" stroke="#1a1a1a" stroke-width="1"/>
<line x1="298.88" y1="398.9" x2="298.88" y2="402.76" stroke="#1a1a1a" stroke-width="1"/>
<line x1="296.38" y1="398.9" x2="301.38" y2="398.9" stroke="#1a1a1a" stroke-width="1"/>
<line x1="296.38" y1="402.76" x2="301.38" y2="402.76" stroke="#1a1a1a" stroke-width="1"/>
<path d="M64.1 474.9 L68 481.92 L60.2 481.92Z" fill="#0d0d0d"/>
<path d="M111.06 445.95 L114.96 452.97 L107.16 452.97Z" fill="#0d0d0d"/>
<path d="M118.88 428.97 L122.78 435.99 L114.98 435.99Z" fill="#0d0d0d"/>
<path d="M126.71 415.07 L130.61 422.09 L122.81 422.09Z" fill="#0d0d0d"/>
<path d="M134.53 412.75 L138.43 419.77 L130.63 419.77Z" fill="#0d0d0d"/>
<path d="M142.36 402.91 L146.26 409.93 L138.46 409.93Z" fill="#0d0d0d"/>
<path d="M150.19 397.12 L154.09 404.14 L146.29 404.14Z" fill="#0d0d0d"/>
<path d="M158.01 396.54 L161.91 403.56 L154.11 403.56Z" fill="#0d0d0d"/>
<path d="M204.97 393.84 L208.87 400.86 L201.07 400.86Z" fill="#0d0d0d"/>
<path d="M251.92 392.68 L255.82 399.7 L248.02 399.7Z" fill="#0d0d0d"/>
<path d="M298.88 396.93 L302.78 403.95 L294.98 403.95Z" fill="#0d0d0d"/>
<circle cx="64.1" cy="476.5" r="3.3" fill="#0d0d0d"/>
<circle cx="111.06" cy="466.52" r="3.3" fill="#0d0d0d"/>
<circle cx="118.88" cy="459.87" r="3.3" fill="#0d0d0d"/>
<circle cx="126.71" cy="451.55" r="3.3" fill="#0d0d0d"/>
<circle cx="134.53" cy="446.8" r="3.3" fill="#0d0d0d"/>
<circle cx="142.36" cy="437.3" r="3.3" fill="#0d0d0d"/>
<circle cx="150.19" cy="431.36" r="3.3" fill="#0d0d0d"/>
<circle cx="158.01" cy="426.6" r="3.3" fill="#0d0d0d"/>
<circle cx="204.97" cy="414.72" r="3.3" fill="#0d0d0d"/>
<circle cx="251.92" cy="408.31" r="3.3" fill="#0d0d0d"/>
<circle cx="298.88" cy="415.91" r="3.3" fill="#0d0d0d"/>
<rect x="61.1" y="473.5" width="6" height="6" fill="#0d0d0d"/>
<rect x="108.06" y="411.72" width="6" height="6" fill="#0d0d0d"/>
<rect x="115.88" y="403.41" width="6" height="6" fill="#0d0d0d"/>
<rect x="123.71" y="393.9" width="6" height="6" fill="#0d0d0d"/>
<rect x="131.53" y="382.02" width="6" height="6" fill="#0d0d0d"/>
<rect x="139.36" y="368.96" width="6" height="6" fill="#0d0d0d"/>
<rect x="147.19" y="360.64" width="6" height="6" fill="#0d0d0d"/>
<rect x="155.01" y="351.14" width="6" height="6" fill="#0d0d0d"/>
<rect x="201.97" y="326.19" width="6" height="6" fill="#0d0d0d"/>
<rect x="248.92" y="316.68" width="6" height="6" fill="#0d0d0d"/>
<rect x="295.88" y="323.81" width="6" height="6" fill="#0d0d0d"/>
<line x1="61.3" y1="301.3" x2="69.1" y2="301.3" stroke="#1a1a1a" stroke-width="1.2"/>
<line x1="77.5" y1="301.3" x2="85" y2="301.3" stroke="#1a1a1a" stroke-width="1.2"/>
<rect x="70.45" y="298.45" width="5.7" height="5.7" fill="#0d0d0d"/>
<text transform="translate(88.4 305.8) scale(1 1.1)" text-anchor="start" font-size="11.35">Biomass</text>
<line x1="61.3" y1="315.25" x2="69.1" y2="315.25" stroke="#1a1a1a" stroke-width="1.2"/>
<line x1="77.5" y1="315.25" x2="85" y2="315.25" stroke="#1a1a1a" stroke-width="1.2"/>
<circle cx="73.3" cy="315.25" r="3.13" fill="#0d0d0d"/>
<text transform="translate(88.4 319.75) scale(1 1.1)" text-anchor="start" font-size="11.35">Lipid concentration</text>
<line x1="61.3" y1="329.2" x2="69.1" y2="329.2" stroke="#1a1a1a" stroke-width="1.2"/>
<line x1="77.5" y1="329.2" x2="85" y2="329.2" stroke="#1a1a1a" stroke-width="1.2"/>
<path d="M73.3 325.5 L77 332.16 L69.59 332.16Z" fill="#0d0d0d"/>
<text transform="translate(88.4 333.7) scale(1 1.1)" text-anchor="start" font-size="11.35">Lipid content</text>
<line x1="480.3" y1="459.5" x2="777.8" y2="459.5" stroke="#222222" stroke-width="1.3"/>
<line x1="493.72" y1="459.5" x2="493.72" y2="462" stroke="#222222" stroke-width="1.1"/>
<line x1="510.6" y1="459.5" x2="510.6" y2="463.7" stroke="#222222" stroke-width="1.1"/>
<text transform="translate(510.6 476.2) scale(1 1.1)" text-anchor="middle" font-size="11">21</text>
<line x1="527.48" y1="459.5" x2="527.48" y2="462" stroke="#222222" stroke-width="1.1"/>
<line x1="544.36" y1="459.5" x2="544.36" y2="463.7" stroke="#222222" stroke-width="1.1"/>
<text transform="translate(544.36 476.2) scale(1 1.1)" text-anchor="middle" font-size="11">22</text>
<line x1="561.24" y1="459.5" x2="561.24" y2="462" stroke="#222222" stroke-width="1.1"/>
<line x1="578.12" y1="459.5" x2="578.12" y2="463.7" stroke="#222222" stroke-width="1.1"/>
<text transform="translate(578.12 476.2) scale(1 1.1)" text-anchor="middle" font-size="11">23</text>
<line x1="595" y1="459.5" x2="595" y2="462" stroke="#222222" stroke-width="1.1"/>
<line x1="611.88" y1="459.5" x2="611.88" y2="463.7" stroke="#222222" stroke-width="1.1"/>
<text transform="translate(611.88 476.2) scale(1 1.1)" text-anchor="middle" font-size="11">24</text>
<line x1="628.76" y1="459.5" x2="628.76" y2="462" stroke="#222222" stroke-width="1.1"/>
<line x1="645.64" y1="459.5" x2="645.64" y2="463.7" stroke="#222222" stroke-width="1.1"/>
<text transform="translate(645.64 476.2) scale(1 1.1)" text-anchor="middle" font-size="11">25</text>
<line x1="662.52" y1="459.5" x2="662.52" y2="462" stroke="#222222" stroke-width="1.1"/>
<line x1="679.4" y1="459.5" x2="679.4" y2="463.7" stroke="#222222" stroke-width="1.1"/>
<text transform="translate(679.4 476.2) scale(1 1.1)" text-anchor="middle" font-size="11">26</text>
<line x1="696.28" y1="459.5" x2="696.28" y2="462" stroke="#222222" stroke-width="1.1"/>
<line x1="713.16" y1="459.5" x2="713.16" y2="463.7" stroke="#222222" stroke-width="1.1"/>
<text transform="translate(713.16 476.2) scale(1 1.1)" text-anchor="middle" font-size="11">27</text>
<line x1="730.04" y1="459.5" x2="730.04" y2="462" stroke="#222222" stroke-width="1.1"/>
<line x1="746.92" y1="459.5" x2="746.92" y2="463.7" stroke="#222222" stroke-width="1.1"/>
<text transform="translate(746.92 476.2) scale(1 1.1)" text-anchor="middle" font-size="11">28</text>
<line x1="763.8" y1="459.5" x2="763.8" y2="462" stroke="#222222" stroke-width="1.1"/>
<text transform="translate(767.6 476.2) scale(1 1.1)" text-anchor="middle" font-size="11">Min</text>
<text transform="translate(477.5 386) scale(1 1.1)" text-anchor="start" font-size="11.3">Microbial Lipid</text>
<text transform="translate(481.2 447.8) scale(1 1.1)" text-anchor="start" font-size="11.3">RSOW</text>
<text transform="translate(558.3 351) scale(1 1.1)" text-anchor="middle" font-size="9.5">1</text>
<text transform="translate(669.3 323.7) scale(1 1.1)" text-anchor="middle" font-size="9.5">2</text>
<text transform="translate(674.3 333.1) scale(1 1.1)" text-anchor="middle" font-size="9.5">3</text>
<text transform="translate(691.6 370.8) scale(1 1.1)" text-anchor="middle" font-size="9.5">4</text>
<polyline points="480.22,390.46 480.55,390.46 480.88,390.46 481.21,390.46 481.54,390.46 481.87,390.46 482.2,390.46 482.53,390.46 482.86,390.46 483.19,390.46 483.52,390.46 483.86,390.46 484.19,390.45 484.52,390.45 484.85,390.45 485.18,390.45 485.51,390.45 485.84,390.45 486.17,390.45 486.5,390.45 486.83,390.45 487.16,390.45 487.49,390.45 487.83,390.45 488.16,390.45 488.49,390.45 488.82,390.45 489.15,390.44 489.48,390.44 489.81,390.44 490.14,390.44 490.47,390.44 490.8,390.44 491.13,390.44 491.46,390.44 491.8,390.44 492.13,390.44 492.46,390.44 492.79,390.44 493.12,390.44 493.45,390.44 493.78,390.43 494.11,390.43 494.44,390.43 494.77,390.43 495.1,390.43 495.44,390.43 495.77,390.43 496.1,390.43 496.43,390.43 496.76,390.43 497.09,390.43 497.42,390.43 497.75,390.43 498.08,390.43 498.41,390.43 498.74,390.42 499.07,390.42 499.41,390.42 499.74,390.42 500.07,390.42 500.4,390.42 500.73,390.42 501.06,390.42 501.39,390.42 501.72,390.42 502.05,390.42 502.38,390.42 502.71,390.42 503.04,390.42 503.38,390.41 503.71,390.41 504.04,390.41 504.37,390.41 504.7,390.41 505.03,390.41 505.36,390.41 505.69,390.41 506.02,390.41 506.35,390.41 506.68,390.41 507.01,390.41 507.35,390.41 507.68,390.41 508.01,390.41 508.34,390.4 508.67,390.4 509,390.4 509.33,390.4 509.66,390.4 509.99,390.4 510.32,390.4 510.65,390.4 510.98,390.4 511.32,390.4 511.65,390.4 511.98,390.4 512.31,390.4 512.64,390.4 512.97,390.4 513.3,390.39 513.63,390.39 513.96,390.39 514.29,390.39 514.62,390.39 514.96,390.39 515.29,390.39 515.62,390.39 515.95,390.39 516.28,390.39 516.61,390.39 516.94,390.39 517.27,390.39 517.6,390.39 517.93,390.38 518.26,390.38 518.59,390.38 518.93,390.38 519.26,390.38 519.59,390.38 519.92,390.38 520.25,390.38 520.58,390.38 520.91,390.38 521.24,390.38 521.57,390.38 521.9,390.38 522.23,390.38 522.56,390.38 522.9,390.37 523.23,390.37 523.56,390.37 523.89,390.37 524.22,390.37 524.55,390.37 524.88,390.37 525.21,390.37 525.54,390.37 525.87,390.37 526.2,390.37 526.53,390.37 526.87,390.37 527.2,390.37 527.53,390.36 527.86,390.36 528.19,390.36 528.52,390.36 528.85,390.36 529.18,390.36 529.51,390.36 529.84,390.36 530.17,390.36 530.5,390.36 530.84,390.36 531.17,390.36 531.5,390.36 531.83,390.36 532.16,390.36 532.49,390.35 532.82,390.35 533.15,390.35 533.48,390.35 533.81,390.35 534.14,390.35 534.48,390.35 534.81,390.35 535.14,390.35 535.47,390.35 535.8,390.35 536.13,390.35 536.46,390.35 536.79,390.35 537.12,390.35 537.45,390.34 537.78,390.34 538.11,390.34 538.45,390.34 538.78,390.34 539.11,390.34 539.44,390.34 539.77,390.34 540.1,390.34 540.43,390.34 540.76,390.34 541.09,390.34 541.42,390.34 541.75,390.34 542.08,390.33 542.42,390.33 542.75,390.33 543.08,390.33 543.41,390.33 543.74,390.33 544.07,390.33 544.4,390.33 544.73,390.33 545.06,390.33 545.39,390.33 545.72,390.33 546.05,390.33 546.39,390.33 546.72,390.33 547.05,390.32 547.38,390.32 547.71,390.32 548.04,390.32 548.37,390.32 548.7,390.32 549.03,390.32 549.36,390.32 549.69,390.32 550.02,390.32 550.36,390.32 550.69,390.32 551.02,390.32 551.35,390.32 551.68,390.31 552.01,390.31 552.34,390.31 552.67,390.31 553,390.31 553.33,390.31 553.66,390.31 554,390.31 554.33,390.31 554.66,390.31 554.99,390.34 555.32,390.4 555.65,390.55 555.98,390.69 556.31,390.53 556.64,389.42 556.97,386.66 557.3,381.89 557.63,375.4 557.97,368.19 558.3,361.68 558.63,357.39 558.96,356.43 559.29,359.03 559.62,364.42 559.95,371.2 560.28,377.95 560.61,383.63 560.94,387.69 561.27,390.03 561.6,390.95 561.94,391 562.27,390.73 562.6,390.49 562.93,390.36 563.26,390.31 563.59,390.29 563.92,390.29 564.25,390.29 564.58,390.29 564.91,390.29 565.24,390.29 565.57,390.29 565.91,390.29 566.24,390.28 566.57,390.28 566.9,390.28 567.23,390.28 567.56,390.28 567.89,390.28 568.22,390.28 568.55,390.28 568.88,390.28 569.21,390.28 569.54,390.28 569.88,390.28 570.21,390.28 570.54,390.28 570.87,390.28 571.2,390.27 571.53,390.27 571.86,390.27 572.19,390.27 572.52,390.27 572.85,390.27 573.18,390.27 573.52,390.27 573.85,390.27 574.18,390.27 574.51,390.27 574.84,390.27 575.17,390.27 575.5,390.27 575.83,390.26 576.16,390.26 576.49,390.26 576.82,390.26 577.15,390.26 577.49,390.26 577.82,390.26 578.15,390.26 578.48,390.26 578.81,390.26 579.14,390.26 579.47,390.26 579.8,390.26 580.13,390.26 580.46,390.26 580.79,390.25 581.12,390.25 581.46,390.25 581.79,390.25 582.12,390.25 582.45,390.25 582.78,390.25 583.11,390.25 583.44,390.25 583.77,390.25 584.1,390.25 584.43,390.25 584.76,390.25 585.09,390.25 585.43,390.24 585.76,390.24 586.09,390.24 586.42,390.24 586.75,390.24 587.08,390.24 587.41,390.24 587.74,390.24 588.07,390.24 588.4,390.24 588.73,390.24 589.06,390.24 589.4,390.24 589.73,390.24 590.06,390.24 590.39,390.23 590.72,390.23 591.05,390.23 591.38,390.23 591.71,390.23 592.04,390.23 592.37,390.23 592.7,390.23 593.04,390.23 593.37,390.23 593.7,390.23 594.03,390.23 594.36,390.23 594.69,390.23 595.02,390.22 595.35,390.22 595.68,390.22 596.01,390.22 596.34,390.22 596.67,390.22 597.01,390.22 597.34,390.22 597.67,390.22 598,390.22 598.33,390.22 598.66,390.22 598.99,390.22 599.32,390.22 599.65,390.22 599.98,390.21 600.31,390.21 600.64,390.21 600.98,390.21 601.31,390.21 601.64,390.21 601.97,390.21 602.3,390.21 602.63,390.21 602.96,390.21 603.29,390.21 603.62,390.21 603.95,390.21 604.28,390.21 604.61,390.21 604.95,390.2 605.28,390.2 605.61,390.2 605.94,390.2 606.27,390.2 606.6,390.2 606.93,390.2 607.26,390.2 607.59,390.2 607.92,390.2 608.25,390.2 608.59,390.2 608.92,390.2 609.25,390.2 609.58,390.19 609.91,390.19 610.24,390.19 610.57,390.19 610.9,390.19 611.23,390.19 611.56,390.19 611.89,390.19 612.22,390.19 612.56,390.19 612.89,390.19 613.22,390.19 613.55,390.19 613.88,390.19 614.21,390.19 614.54,390.18 614.87,390.18 615.2,390.18 615.53,390.18 615.86,390.18 616.19,390.18 616.53,390.18 616.86,390.18 617.19,390.18 617.52,390.18 617.85,390.18 618.18,390.18 618.51,390.18 618.84,390.18 619.17,390.17 619.5,390.17 619.83,390.17 620.16,390.17 620.5,390.17 620.83,390.17 621.16,390.17 621.49,390.17 621.82,390.17 622.15,390.17 622.48,390.17 622.81,390.17 623.14,390.17 623.47,390.17 623.8,390.17 624.13,390.16 624.47,390.16 624.8,390.16 625.13,390.16 625.46,390.16 625.79,390.16 626.12,390.16 626.45,390.16 626.78,390.16 627.11,390.16 627.44,390.16 627.77,390.16 628.11,390.16 628.44,390.16 628.77,390.15 629.1,390.15 629.43,390.15 629.76,390.15 630.09,390.15 630.42,390.15 630.75,390.15 631.08,390.15 631.41,390.15 631.74,390.15 632.08,390.15 632.41,390.15 632.74,390.15 633.07,390.15 633.4,390.15 633.73,390.14 634.06,390.14 634.39,390.14 634.72,390.14 635.05,390.14 635.38,390.14 635.71,390.14 636.05,390.14 636.38,390.14 636.71,390.14 637.04,390.14 637.37,390.14 637.7,390.14 638.03,390.14 638.36,390.14 638.69,390.13 639.02,390.13 639.35,390.13 639.68,390.13 640.02,390.13 640.35,390.13 640.68,390.13 641.01,390.13 641.34,390.13 641.67,390.13 642,390.13 642.33,390.13 642.66,390.13 642.99,390.13 643.32,390.12 643.65,390.12 643.99,390.12 644.32,390.12 644.65,390.12 644.98,390.12 645.31,390.12 645.64,390.12 645.97,390.12 646.3,390.12 646.63,390.12 646.96,390.12 647.29,390.12 647.63,390.12 647.96,390.12 648.29,390.11 648.62,390.11 648.95,390.11 649.28,390.11 649.61,390.11 649.94,390.11 650.27,390.11 650.6,390.11 650.93,390.11 651.26,390.11 651.6,390.11 651.93,390.11 652.26,390.11 652.59,390.11 652.92,390.1 653.25,390.1 653.58,390.1 653.91,390.1 654.24,390.1 654.57,390.1 654.9,390.1 655.23,390.1 655.57,390.1 655.9,390.1 656.23,390.1 656.56,390.1 656.89,390.1 657.22,390.1 657.55,390.1 657.88,390.09 658.21,390.09 658.54,390.09 658.87,390.09 659.2,390.09 659.54,390.09 659.87,390.09 660.2,390.09 660.53,390.09 660.86,390.09 661.19,390.09 661.52,390.09 661.85,390.09 662.18,390.09 662.51,390.09 662.84,390.08 663.17,390.08 663.51,390.08 663.84,390.08 664.17,390.08 664.5,390.08 664.83,390.08 665.16,390.08 665.49,390.13 665.82,390.33 666.15,390.88 666.48,391.61 666.81,391.39 667.15,388.69 667.48,382.78 667.81,373.66 668.14,361.65 668.47,348.06 668.8,335.87 669.13,328.82 669.46,329.39 669.79,337.38 670.12,349.97 670.45,363.35 670.78,374.55 671.12,382.27 671.45,386.31 671.78,386.81 672.11,383.88 672.44,377.59 672.77,368.14 673.1,356.52 673.43,345.15 673.76,337.35 674.09,335.83 674.42,341.13 674.75,351.31 675.09,363.06 675.42,373.39 675.75,380.74 676.08,385.06 676.41,387.17 676.74,388.03 677.07,388.37 677.4,388.6 677.73,388.86 678.06,389.15 678.39,389.44 678.72,389.68 679.06,389.84 679.39,389.95 679.72,390 680.05,390.03 680.38,390.04 680.71,390.05 681.04,390.05 681.37,390.05 681.7,390.05 682.03,390.04 682.36,390.04 682.69,390.04 683.03,390.04 683.36,390.04 683.69,390.04 684.02,390.04 684.35,390.04 684.68,390.04 685.01,390.04 685.34,390.04 685.67,390.04 686,390.04 686.33,390.04 686.67,390.03 687,390.03 687.33,390.03 687.66,390.01 687.99,389.97 688.32,389.86 688.65,389.63 688.98,389.15 689.31,388.29 689.64,386.89 689.97,384.88 690.3,382.34 690.64,379.57 690.97,377.09 691.3,375.44 691.63,375.06 691.96,376.04 692.29,378.13 692.62,380.81 692.95,383.53 693.28,385.85 693.61,387.58 693.94,388.72 694.27,389.39 694.61,389.74 694.94,389.91 695.27,389.98 695.6,390 695.93,390.01 696.26,390.01 696.59,390.01 696.92,390.01 697.25,390.01 697.58,390.01 697.91,390.01 698.24,390.01 698.58,390.01 698.91,390.01 699.24,390.01 699.57,390.01 699.9,390.01 700.23,390.01 700.56,390.01 700.89,390.01 701.22,390 701.55,390 701.88,390 702.22,390 702.55,390 702.88,390 703.21,390 703.54,390 703.87,390 704.2,390 704.53,390 704.86,390 705.19,390 705.52,390 705.85,390 706.19,389.99 706.52,389.99 706.85,389.99 707.18,389.99 707.51,389.99 707.84,389.99 708.17,389.99 708.5,389.99 708.83,389.99 709.16,389.99 709.49,389.99 709.82,389.99 710.16,389.99 710.49,389.99 710.82,389.98 711.15,389.98 711.48,389.98 711.81,389.98 712.14,389.98 712.47,389.98 712.8,389.98 713.13,389.98 713.46,389.98 713.79,389.98 714.13,389.98 714.46,389.98 714.79,389.98 715.12,389.98 715.45,389.98 715.78,389.97 716.11,389.97 716.44,389.97 716.77,389.97 717.1,389.97 717.43,389.97 717.76,389.97 718.1,389.97 718.43,389.97 718.76,389.97 719.09,389.97 719.42,389.97 719.75,389.97 720.08,389.97 720.41,389.96 720.74,389.96 721.07,389.96 721.4,389.96 721.74,389.96 722.07,389.96 722.4,389.96 722.73,389.96 723.06,389.96 723.39,389.96 723.72,389.96 724.05,389.96 724.38,389.96 724.71,389.96 725.04,389.96 725.37,389.95 725.71,389.95 726.04,389.95 726.37,389.95 726.7,389.95 727.03,389.95 727.36,389.95 727.69,389.95 728.02,389.95 728.35,389.95 728.68,389.95 729.01,389.95 729.34,389.95 729.68,389.95 730.01,389.95 730.34,389.94 730.67,389.94 731,389.94 731.33,389.94 731.66,389.94 731.99,389.94 732.32,389.94 732.65,389.94 732.98,389.94 733.31,389.94 733.65,389.94 733.98,389.94 734.31,389.94 734.64,389.94 734.97,389.93 735.3,389.93 735.63,389.93 735.96,389.93 736.29,389.93 736.62,389.93 736.95,389.93 737.28,389.93 737.62,389.93 737.95,389.93 738.28,389.93 738.61,389.93 738.94,389.93 739.27,389.93 739.6,389.93 739.93,389.92 740.26,389.92 740.59,389.92 740.92,389.92 741.26,389.92 741.59,389.92 741.92,389.92 742.25,389.92 742.58,389.92 742.91,389.92 743.24,389.92 743.57,389.92 743.9,389.92 744.23,389.92 744.56,389.91 744.89,389.91 745.23,389.91 745.56,389.91 745.89,389.91 746.22,389.91 746.55,389.91 746.88,389.91 747.21,389.91 747.54,389.91 747.87,389.91 748.2,389.91 748.53,389.91 748.86,389.91 749.2,389.91 749.53,389.9 749.86,389.9 750.19,389.9 750.52,389.9 750.85,389.9 751.18,389.9 751.51,389.9 751.84,389.9 752.17,389.9 752.5,389.9 752.83,389.9 753.17,389.9 753.5,389.9 753.83,389.9 754.16,389.89 754.49,389.89 754.82,389.89 755.15,389.89 755.48,389.89 755.81,389.89 756.14,389.89 756.47,389.89 756.8,389.89 757.14,389.89 757.47,389.89 757.8,389.89 758.13,389.89 758.46,389.89 758.79,389.89 759.12,389.88 759.45,389.88 759.78,389.88 760.11,389.88 760.44,389.87 760.78,389.87 761.11,389.85 761.44,389.83 761.77,389.81 762.1,389.77 762.43,389.72 762.76,389.66 763.09,389.58 763.42,389.5 763.75,389.4 764.08,389.31 764.41,389.22 764.75,389.15 765.08,389.1 765.41,389.07 765.74,389.08 766.07,389.12 766.4,389.18 766.73,389.26 767.06,389.35 767.39,389.44 767.72,389.53 768.05,389.61 768.38,389.68 768.72,389.74 769.05,389.78 769.38,389.81 769.71,389.83 770.04,389.84 770.37,389.85 770.7,389.85 771.03,389.86 771.36,389.86 771.69,389.86 772.02,389.86 772.35,389.86 772.69,389.86 773.02,389.86 773.35,389.86 773.68,389.85 774.01,389.85 774.34,389.85 774.67,389.85 775,389.85 775.33,389.85 775.66,389.85 775.99,389.85 776.32,389.85 776.66,389.85 776.99,389.85 777.32,389.85 777.65,389.85 777.98,389.85" fill="none" stroke="#1a1a1a" stroke-width="1.1" stroke-linejoin="round"/>
<polyline points="480.22,452 480.55,452 480.88,452 481.21,452 481.54,452 481.87,452 482.2,452 482.53,452 482.86,452 483.19,452 483.52,452 483.86,452 484.19,452 484.52,452 484.85,452 485.18,452 485.51,452 485.84,452 486.17,452 486.5,452 486.83,452 487.16,452 487.49,452 487.83,452 488.16,452 488.49,452 488.82,452 489.15,452 489.48,452 489.81,452 490.14,452 490.47,452 490.8,452 491.13,452 491.46,452 491.8,452 492.13,452 492.46,452 492.79,452 493.12,452 493.45,452 493.78,452 494.11,452 494.44,452 494.77,452 495.1,452 495.44,452 495.77,452 496.1,452 496.43,452 496.76,452 497.09,452 497.42,452 497.75,452 498.08,452 498.41,452 498.74,452 499.07,452 499.41,452 499.74,452 500.07,452 500.4,452 500.73,452 501.06,452 501.39,452 501.72,452 502.05,452 502.38,452 502.71,452 503.04,452 503.38,452 503.71,452 504.04,452 504.37,452 504.7,452 505.03,452 505.36,452 505.69,452 506.02,452 506.35,452 506.68,452 507.01,452 507.35,452 507.68,452 508.01,452 508.34,452 508.67,452 509,452 509.33,452 509.66,452 509.99,452 510.32,452 510.65,452.6 510.98,452.6 511.32,452.6 511.65,452.6 511.98,452.6 512.31,452.6 512.64,452.6 512.97,452.6 513.3,452.6 513.63,452.6 513.96,452.6 514.29,452.6 514.62,452.6 514.96,452.6 515.29,452.6 515.62,452.6 515.95,452.6 516.28,452.6 516.61,452.6 516.94,452.6 517.27,452.6 517.6,452.6 517.93,452.6 518.26,452.6 518.59,452.6 518.93,452.6 519.26,452.6 519.59,452.6 519.92,452.6 520.25,452.6 520.58,452.6 520.91,452.6 521.24,452.6 521.57,452.6 521.9,452.6 522.23,452.6 522.56,452.6 522.9,452.6 523.23,452.6 523.56,452.6 523.89,452.6 524.22,452.6 524.55,452.6 524.88,452.6 525.21,452.6 525.54,452.6 525.87,452.6 526.2,452.6 526.53,452.6 526.87,452.6 527.2,452.6 527.53,452.6 527.86,452.6 528.19,452.6 528.52,452.6 528.85,452.6 529.18,452.6 529.51,452.6 529.84,452.6 530.17,452.6 530.5,452.6 530.84,452.6 531.17,452.6 531.5,452.6 531.83,452.6 532.16,452.6 532.49,452.59 532.82,452.59 533.15,452.58 533.48,452.57 533.81,452.56 534.14,452.54 534.48,452.51 534.81,452.48 535.14,452.44 535.47,452.39 535.8,452.33 536.13,452.27 536.46,452.2 536.79,452.13 537.12,452.07 537.45,452.01 537.78,451.96 538.11,451.92 538.45,451.9 538.78,451.9 539.11,451.92 539.44,451.95 539.77,452 540.1,452.06 540.43,452.13 540.76,452.2 541.09,452.27 541.42,452.33 541.75,452.39 542.08,452.44 542.42,452.48 542.75,452.51 543.08,452.54 543.41,452.56 543.74,452.57 544.07,452.58 544.4,452.59 544.73,452.59 545.06,452.6 545.39,452.6 545.72,452.6 546.05,452.6 546.39,452.6 546.72,452.6 547.05,452.6 547.38,452.6 547.71,452.6 548.04,452.6 548.37,452.6 548.7,452.6 549.03,452.6 549.36,452.6 549.69,452.6 550.02,452.6 550.36,452.6 550.69,452.6 551.02,452.6 551.35,452.6 551.68,452.6 552.01,452.6 552.34,452.6 552.67,452.6 553,452.6 553.33,452.6 553.66,452.6 554,452.61 554.33,452.64 554.66,452.74 554.99,452.98 555.32,453.42 555.65,454.01 555.98,454.38 556.31,453.86 556.64,451.67 556.97,447.24 557.3,440.42 557.63,431.57 557.97,421.58 558.3,411.92 558.63,404.42 558.96,400.79 559.29,401.9 559.62,407.44 559.95,415.98 560.28,425.56 560.61,434.42 560.94,441.46 561.27,446.38 561.6,449.4 561.94,451.05 562.27,451.81 562.6,452.07 562.93,452.04 563.26,451.87 563.59,451.6 563.92,451.28 564.25,450.96 564.58,450.68 564.91,450.48 565.24,450.4 565.57,450.45 565.91,450.62 566.24,450.88 566.57,451.19 566.9,451.52 567.23,451.81 567.56,452.06 567.89,452.26 568.22,452.39 568.55,452.48 568.88,452.54 569.21,452.57 569.54,452.58 569.88,452.59 570.21,452.6 570.54,452.6 570.87,452.6 571.2,452.6 571.53,452.6 571.86,452.6 572.19,452.6 572.52,452.6 572.85,452.6 573.18,452.6 573.52,452.6 573.85,452.6 574.18,452.6 574.51,452.6 574.84,452.6 575.17,452.6 575.5,452.6 575.83,452.6 576.16,452.6 576.49,452.6 576.82,452.6 577.15,452.6 577.49,452.6 577.82,452.6 578.15,452.6 578.48,452.6 578.81,452.6 579.14,452.6 579.47,452.6 579.8,452.6 580.13,452.6 580.46,452.6 580.79,452.6 581.12,452.6 581.46,452.6 581.79,452.6 582.12,452.6 582.45,452.6 582.78,452.6 583.11,452.6 583.44,452.6 583.77,452.6 584.1,452.6 584.43,452.6 584.76,452.6 585.09,452.6 585.43,452.6 585.76,452.6 586.09,452.6 586.42,452.6 586.75,452.6 587.08,452.6 587.41,452.6 587.74,452.6 588.07,452.6 588.4,452.6 588.73,452.6 589.06,452.6 589.4,452.6 589.73,452.6 590.06,452.6 590.39,452.6 590.72,452.6 591.05,452.6 591.38,452.6 591.71,452.6 592.04,452.6 592.37,452.6 592.7,452.6 593.04,452.6 593.37,452.6 593.7,452.6 594.03,452.6 594.36,452.6 594.69,452.6 595.02,452.6 595.35,452.6 595.68,452.6 596.01,452.6 596.34,452.6 596.67,452.6 597.01,452.6 597.34,452.6 597.67,452.6 598,452.6 598.33,452.6 598.66,452.6 598.99,452.6 599.32,452.6 599.65,452.6 599.98,452.6 600.31,452.6 600.64,452.6 600.98,452.6 601.31,452.6 601.64,452.6 601.97,452.6 602.3,452.6 602.63,452.6 602.96,452.6 603.29,452.6 603.62,452.6 603.95,452.6 604.28,452.6 604.61,452.6 604.95,452.6 605.28,452.6 605.61,452.6 605.94,452.6 606.27,452.6 606.6,452.6 606.93,452.6 607.26,452.6 607.59,452.6 607.92,452.6 608.25,452.6 608.59,452.6 608.92,452.6 609.25,452.6 609.58,452.6 609.91,452.6 610.24,452.6 610.57,452.6 610.9,452.6 611.23,452.6 611.56,452.6 611.89,452.6 612.22,452.6 612.56,452.6 612.89,452.6 613.22,452.6 613.55,452.6 613.88,452.6 614.21,452.6 614.54,452.6 614.87,452.6 615.2,452.6 615.53,452.6 615.86,452.6 616.19,452.6 616.53,452.6 616.86,452.6 617.19,452.6 617.52,452.6 617.85,452.6 618.18,452.6 618.51,452.6 618.84,452.6 619.17,452.6 619.5,452.6 619.83,452.6 620.16,452.6 620.5,452.6 620.83,452.6 621.16,452.6 621.49,452.6 621.82,452.6 622.15,452.6 622.48,452.6 622.81,452.6 623.14,452.6 623.47,452.6 623.8,452.6 624.13,452.6 624.47,452.6 624.8,452.6 625.13,452.6 625.46,452.6 625.79,452.6 626.12,452.6 626.45,452.6 626.78,452.6 627.11,452.6 627.44,452.6 627.77,452.6 628.11,452.6 628.44,452.6 628.77,452.6 629.1,452.6 629.43,452.6 629.76,452.6 630.09,452.6 630.42,452.6 630.75,452.6 631.08,452.6 631.41,452.6 631.74,452.6 632.08,452.6 632.41,452.6 632.74,452.6 633.07,452.6 633.4,452.6 633.73,452.6 634.06,452.6 634.39,452.6 634.72,452.6 635.05,452.6 635.38,452.6 635.71,452.6 636.05,452.6 636.38,452.6 636.71,452.6 637.04,452.6 637.37,452.6 637.7,452.6 638.03,452.6 638.36,452.6 638.69,452.6 639.02,452.6 639.35,452.6 639.68,452.6 640.02,452.6 640.35,452.6 640.68,452.6 641.01,452.6 641.34,452.6 641.67,452.6 642,452.6 642.33,452.6 642.66,452.6 642.99,452.6 643.32,452.6 643.65,452.6 643.99,452.6 644.32,452.6 644.65,452.6 644.98,452.6 645.31,452.6 645.64,452.6 645.97,452.6 646.3,452.6 646.63,452.6 646.96,452.6 647.29,452.6 647.63,452.6 647.96,452.6 648.29,452.6 648.62,452.6 648.95,452.6 649.28,452.6 649.61,452.6 649.94,452.6 650.27,452.6 650.6,452.6 650.93,452.6 651.26,452.6 651.6,452.6 651.93,452.6 652.26,452.6 652.59,452.6 652.92,452.6 653.25,452.6 653.58,452.6 653.91,452.6 654.24,452.6 654.57,452.6 654.9,452.6 655.23,452.6 655.57,452.6 655.9,452.6 656.23,452.59 656.56,452.58 656.89,452.55 657.22,452.49 657.55,452.38 657.88,452.21 658.21,451.95 658.54,451.62 658.87,451.21 659.2,450.79 659.54,450.42 659.87,450.17 660.2,450.1 660.53,450.22 660.86,450.5 661.19,450.89 661.52,451.32 661.85,451.71 662.18,452.02 662.51,452.26 662.84,452.41 663.17,452.5 663.51,452.55 663.84,452.58 664.17,452.59 664.5,452.6 664.83,452.59 665.16,452.58 665.49,452.56 665.82,452.49 666.15,452.35 666.48,452.09 666.81,451.61 667.15,450.81 667.48,449.6 667.81,447.94 668.14,445.88 668.47,443.59 668.8,441.39 669.13,439.65 669.46,438.7 669.79,438.75 670.12,439.79 670.45,441.62 670.78,443.9 671.12,446.24 671.45,448.24 671.78,449.5 672.11,449.74 672.44,448.92 672.77,447.21 673.1,444.93 673.43,442.44 673.76,440.14 674.09,438.43 674.42,437.63 674.75,437.91 675.09,439.22 675.42,441.28 675.75,443.7 676.08,446.11 676.41,448.2 676.74,449.83 677.07,450.98 677.4,451.72 677.73,452.16 678.06,452.39 678.39,452.51 678.72,452.56 679.06,452.59 679.39,452.6 679.72,452.6 680.05,452.6 680.38,452.6 680.71,452.6 681.04,452.6 681.37,452.6 681.7,452.6 682.03,452.6 682.36,452.6 682.69,452.6 683.03,452.6 683.36,452.6 683.69,452.6 684.02,452.6 684.35,452.6 684.68,452.6 685.01,452.6 685.34,452.6 685.67,452.6 686,452.6 686.33,452.6 686.67,452.6 687,452.6 687.33,452.6 687.66,452.59 687.99,452.58 688.32,452.54 688.65,452.45 688.98,452.23 689.31,451.76 689.64,449.65 689.97,448.05 690.3,445.5 690.64,441.82 690.97,437.09 691.3,431.73 691.63,426.5 691.96,422.38 692.29,420.25 692.62,420.59 692.95,423.29 693.28,427.69 693.61,432.86 693.94,437.86 694.27,442.03 694.61,445.1 694.94,447.11 695.27,448.27 695.6,448.87 695.93,449.16 696.26,449.29 696.59,449.38 696.92,449.48 697.25,449.61 697.58,449.77 697.91,449.96 698.24,450.15 698.58,450.35 698.91,450.54 699.24,450.71 699.57,450.86 699.9,450.99 700.23,451.1 700.56,451.19 700.89,451.25 701.22,451.3 701.55,451.33 701.88,451.36 702.22,451.37 702.55,451.38 702.88,451.39 703.21,451.39 703.54,451.4 703.87,451.4 704.2,451.4 704.53,451.4 704.86,451.4 705.19,451.4 705.52,451.4 705.85,451.4 706.19,451.4 706.52,451.4 706.85,451.4 707.18,451.4 707.51,451.4 707.84,451.4 708.17,451.4 708.5,451.4 708.83,451.4 709.16,451.4 709.49,451.4 709.82,451.4 710.16,451.4 710.49,451.4 710.82,451.4 711.15,451.4 711.48,451.4 711.81,451.4 712.14,451.4 712.47,451.4 712.8,451.4 713.13,451.4 713.46,451.4 713.79,451.4 714.13,451.4 714.46,451.4 714.79,451.4 715.12,451.4 715.45,451.4 715.78,451.4 716.11,451.4 716.44,451.4 716.77,451.4 717.1,451.4 717.43,451.4 717.76,451.4 718.1,451.4 718.43,451.4 718.76,451.4 719.09,451.4 719.42,451.39 719.75,451.38 720.08,451.36 720.41,451.32 720.74,451.25 721.07,451.12 721.4,450.92 721.74,450.61 722.07,450.18 722.4,449.62 722.73,448.96 723.06,448.26 723.39,447.58 723.72,447.02 724.05,446.68 724.38,446.61 724.71,446.82 725.04,447.27 725.37,447.9 725.71,448.61 726.04,449.3 726.37,449.91 726.7,450.41 727.03,450.78 727.36,451.03 727.69,451.19 728.02,451.29 728.35,451.35 728.68,451.38 729.01,451.39 729.34,451.4 729.68,451.4 730.01,451.4 730.34,451.4 730.67,451.4 731,451.4 731.33,451.39 731.66,451.38 731.99,451.37 732.32,451.33 732.65,451.28 732.98,451.18 733.31,451.04 733.65,450.81 733.98,450.5 734.31,450.09 734.64,449.57 734.97,448.97 735.3,448.31 735.63,447.67 735.96,447.09 736.29,446.66 736.62,446.43 736.95,446.43 737.28,446.66 737.62,447.08 737.95,447.65 738.28,448.3 738.61,448.95 738.94,449.56 739.27,450.08 739.6,450.49 739.93,450.81 740.26,451.03 740.59,451.18 740.92,451.28 741.26,451.33 741.59,451.36 741.92,451.38 742.25,451.38 742.58,451.38 742.91,451.37 743.24,451.34 743.57,451.29 743.9,451.22 744.23,451.1 744.56,450.92 744.89,450.68 745.23,450.36 745.56,449.98 745.89,449.54 746.22,449.08 746.55,448.64 746.88,448.27 747.21,448.01 747.54,447.9 747.87,447.96 748.2,448.17 748.53,448.51 748.86,448.93 749.2,449.39 749.53,449.84 749.86,450.24 750.19,450.58 750.52,450.85 750.85,451.05 751.18,451.18 751.51,451.27 751.84,451.33 752.17,451.36 752.5,451.38 752.83,451.39 753.17,451.39 753.5,451.39 753.83,451.39 754.16,451.39 754.49,451.37 754.82,451.36 755.15,451.33 755.48,451.28 755.81,451.21 756.14,451.12 756.47,451 756.8,450.85 757.14,450.67 757.47,450.47 757.8,450.26 758.13,450.05 758.46,449.86 758.79,449.72 759.12,449.63 759.45,449.6 759.78,449.64 760.11,449.75 760.44,449.91 760.78,450.1 761.11,450.31 761.44,450.52 761.77,450.71 762.1,450.87 762.43,450.99 762.76,451.06 763.09,451.07 763.42,451.01 763.75,450.89 764.08,450.69 764.41,450.43 764.75,450.12 765.08,449.8 765.41,449.52 765.74,449.3 766.07,449.2 766.4,449.23 766.73,449.39 767.06,449.64 767.39,449.95 767.72,450.27 768.05,450.57 768.38,450.83 768.72,451.03 769.05,451.17 769.38,451.27 769.71,451.33 770.04,451.36 770.37,451.37 770.7,451.38 771.03,451.37 771.36,451.36 771.69,451.33 772.02,451.3 772.35,451.25 772.69,451.18 773.02,451.09 773.35,450.99 773.68,450.88 774.01,450.76 774.34,450.65 774.67,450.55 775,450.46 775.33,450.41 775.66,450.4 775.99,450.42 776.32,450.48 776.66,450.57 776.99,450.68 777.32,450.8 777.65,450.92 777.98,451.02" fill="none" stroke="#1a1a1a" stroke-width="1.1" stroke-linejoin="round"/>
<text x="3.3" y="14.8" class="pl" font-size="19.5" text-anchor="start">a</text>
<text x="457.6" y="15.0" class="pl" font-size="19.5" text-anchor="start">b</text>
<text x="3.3" y="280.9" class="pl" font-size="19.5" text-anchor="start">c</text>
<text x="457.6" y="280.9" class="pl" font-size="19.5" text-anchor="start">d</text>
</svg>
</body></html>
